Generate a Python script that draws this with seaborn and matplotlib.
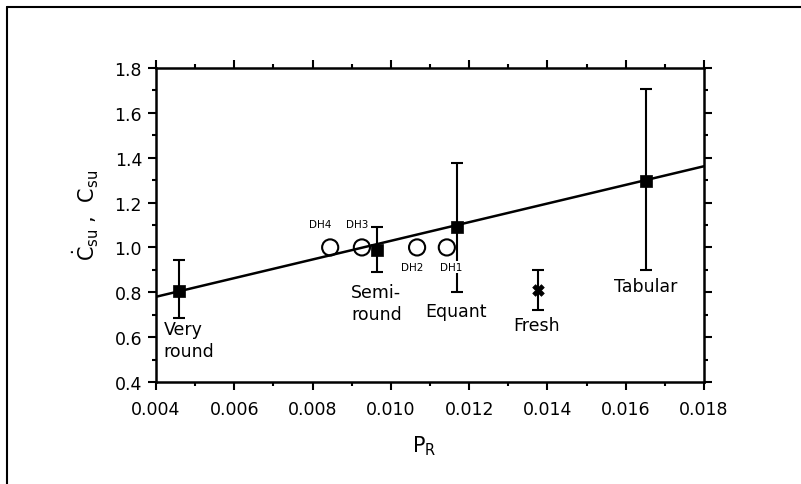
import matplotlib
matplotlib.use("Agg")
import matplotlib.pyplot as plt
import seaborn as sns
import numpy as np
from matplotlib.ticker import MultipleLocator, FormatStrFormatter
from matplotlib.lines import Line2D

# ---- data ----
shape_names = ["Very round", "Semi-round", "Equant", "Tabular"]
shape_pr = [0.00459, 0.00965, 0.01169, 0.01652]
shape_c = [0.806, 0.990, 1.091, 1.298]
shape_lo = [0.685, 0.890, 0.800, 0.900]
shape_hi = [0.944, 1.090, 1.376, 1.706]

fresh_pr = [0.01376]
fresh_c = [0.810]
fresh_lo = [0.720]
fresh_hi = [0.900]

dh_names = ["DH1", "DH2", "DH3", "DH4"]
dh_pr = [0.01143, 0.01067, 0.00926, 0.00845]
dh_c = [1.0, 1.0, 1.0, 1.0]

fit_pr = [0.004, 0.018]
fit_c = [0.780, 1.362]

x_ticks = [0.004, 0.006, 0.008, 0.010, 0.012, 0.014, 0.016, 0.018]
y_ticks = [0.4, 0.6, 0.8, 1.0, 1.2, 1.4, 1.6, 1.8]

# ---- styling ----
sns.set_theme(style="ticks")
plt.rcParams['font.family'] = ['DejaVu Sans']
plt.rcParams['mathtext.fontset'] = 'dejavusans'
plt.rcParams['axes.edgecolor'] = 'black'
plt.rcParams['xtick.color'] = 'black'
plt.rcParams['ytick.color'] = 'black'
plt.rcParams['text.color'] = 'black'
plt.rcParams['axes.labelcolor'] = 'black'

W, H = 801, 485
fig = plt.figure(figsize=(W / 100, H / 100), dpi=100)
ax = fig.add_axes([156 / W, 1 - 383 / H, (704 - 156) / W, (383 - 69) / H])

# fit line
sns.lineplot(x=fit_pr, y=fit_c, color='black', linewidth=1.8, ax=ax, zorder=2)

# error bars
sc = np.array(shape_c)
ax.errorbar(shape_pr, shape_c, yerr=[sc - np.array(shape_lo), np.array(shape_hi) - sc],
            fmt='none', ecolor='black', elinewidth=1.5, capsize=4, capthick=1.5, zorder=3)
fc = np.array(fresh_c)
ax.errorbar(fresh_pr, fresh_c, yerr=[fc - np.array(fresh_lo), np.array(fresh_hi) - fc],
            fmt='none', ecolor='black', elinewidth=1.5, capsize=4, capthick=1.5, zorder=3)

# markers
sns.scatterplot(x=shape_pr, y=shape_c, marker='s', s=75, color='black',
                edgecolor='black', linewidth=0.5, ax=ax, zorder=4)
sns.scatterplot(x=fresh_pr, y=fresh_c, marker='X', s=70, color='black',
                edgecolor='black', linewidth=0.5, ax=ax, zorder=4)
sns.scatterplot(x=dh_pr, y=dh_c, marker='o', s=135, facecolor='none',
                edgecolor='black', linewidth=1.5, ax=ax, zorder=5)

# labels
fs = 12.5
ax.text(0.00419, 0.587, "Very\nround", ha='left', va='center', fontsize=fs, linespacing=1.25)
ax.text(0.00898, 0.752, "Semi-\nround", ha='left', va='center', fontsize=fs, linespacing=1.25)
ax.text(0.01166, 0.717, "Equant", ha='center', va='center', fontsize=fs)
ax.text(0.01373, 0.654, "Fresh", ha='center', va='center', fontsize=fs)
ax.text(0.01650, 0.828, "Tabular", ha='center', va='center', fontsize=fs)

dh_text_pos = {"DH1": (0.01154, 0.913), "DH2": (0.01054, 0.913),
               "DH3": (0.00913, 1.105), "DH4": (0.00819, 1.105)}
for name in dh_names:
    tx, ty = dh_text_pos[name]
    ax.text(tx, ty, name, ha='center', va='center', fontsize=7.5, zorder=6,
            bbox=dict(facecolor='white', edgecolor='none', pad=0.5))

# axes
ax.set_xlim(0.004, 0.018)
ax.set_ylim(0.4, 1.8)
ax.set_xticks(x_ticks)
ax.set_yticks(y_ticks)
ax.xaxis.set_major_formatter(FormatStrFormatter('%.3f'))
ax.yaxis.set_major_formatter(FormatStrFormatter('%.1f'))
ax.xaxis.set_minor_locator(MultipleLocator(0.001))
ax.yaxis.set_minor_locator(MultipleLocator(0.1))
ax.tick_params(which='both', direction='out', top=True, right=True, width=1.5,
               labelsize=12.5)
ax.tick_params(which='major', length=6)
ax.tick_params(which='minor', length=3)
ax.tick_params(axis='x', which='major', pad=7)
ax.tick_params(axis='y', which='major', pad=4)
for sp in ax.spines.values():
    sp.set_visible(True)
    sp.set_linewidth(1.8)
    sp.set_color('black')

ax.set_xlabel(r"$\mathrm{P}_{\mathrm{R}}$", fontsize=15)
ax.set_ylabel(r"$\dot{\mathrm{C}}_{\mathrm{su}}$ ,  $\mathrm{C}_{\mathrm{su}}$", fontsize=15)
ax.xaxis.set_label_coords(0.49, -0.165)
ax.yaxis.set_label_coords(-0.10, 0.535)

# outer frame (left and top edges)
fig.add_artist(Line2D([7 / W, 7 / W], [0, 1 - 8 / H], transform=fig.transFigure,
                      color='black', lw=1.5))
fig.add_artist(Line2D([7 / W, 1], [1 - 8 / H, 1 - 8 / H], transform=fig.transFigure,
                      color='black', lw=1.5))

fig.savefig("out.png", dpi=100, facecolor='white')
